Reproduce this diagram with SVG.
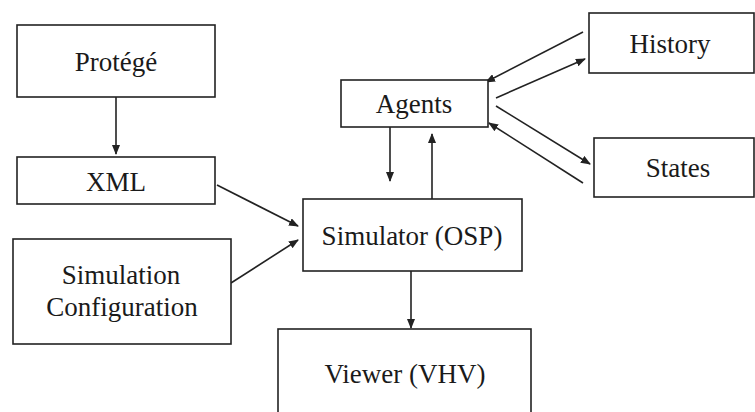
<svg xmlns="http://www.w3.org/2000/svg" width="755" height="412" viewBox="0 0 755 412">
<style>
.box{fill:#fff;stroke:#222;stroke-width:1.6}
.lbl{font-size:27px;fill:#1a1a1a;text-anchor:middle}
.con{stroke:#222;stroke-width:1.6;fill:none;marker-end:url(#ah)}
</style>
<defs>
<marker id="ah" markerUnits="userSpaceOnUse" markerWidth="10" markerHeight="8" refX="9" refY="4" orient="auto">
<path d="M0,0 L10,4 L0,8 z" fill="#222"/>
</marker>
</defs>
<rect width="755" height="412" fill="#fff"/>
<g id="connectors">
<line class="con" x1="116" y1="97" x2="116" y2="154"/>
<line class="con" x1="217" y1="185" x2="298" y2="226"/>
<line class="con" x1="231" y1="283" x2="298" y2="240"/>
<line class="con" x1="390" y1="127" x2="390" y2="181"/>
<line class="con" x1="432" y1="199" x2="432" y2="134"/>
<line class="con" x1="411" y1="271" x2="411" y2="328"/>
<line class="con" x1="583" y1="32" x2="486" y2="82"/>
<line class="con" x1="496" y1="98" x2="585" y2="59"/>
<line class="con" x1="496" y1="106" x2="590" y2="164"/>
<line class="con" x1="583" y1="183" x2="489" y2="123"/>
</g>
<g id="protege"><rect class="box" x="17" y="25" width="198" height="72"/><text class="lbl" font-family="Liberation Serif" x="116" y="71">Prot&#233;g&#233;</text></g>
<g id="xml"><rect class="box" x="17" y="157" width="198" height="47"/><text class="lbl" font-family="Liberation Serif" x="116" y="191">XML</text></g>
<g id="simconfig"><rect class="box" x="13" y="239" width="218" height="105"/><text class="lbl" font-family="Liberation Serif" x="121" y="284">Simulation</text><text class="lbl" font-family="Liberation Serif" x="122" y="316">Configuration</text></g>
<g id="agents"><rect class="box" x="341" y="80" width="147" height="47"/><text class="lbl" font-family="Liberation Serif" x="414" y="113">Agents</text></g>
<g id="history"><rect class="box" x="589" y="13" width="165" height="60"/><text class="lbl" font-family="Liberation Serif" x="670" y="53">History</text></g>
<g id="states"><rect class="box" x="594" y="138" width="160" height="59"/><text class="lbl" font-family="Liberation Serif" x="678" y="177">States</text></g>
<g id="simulator"><rect class="box" x="303" y="199" width="219" height="72"/><text class="lbl" font-family="Liberation Serif" x="412" y="245">Simulator (OSP)</text></g>
<g id="viewer"><rect class="box" x="278" y="329" width="253" height="100"/><text class="lbl" font-family="Liberation Serif" x="405" y="383">Viewer (VHV)</text></g>
</svg>
